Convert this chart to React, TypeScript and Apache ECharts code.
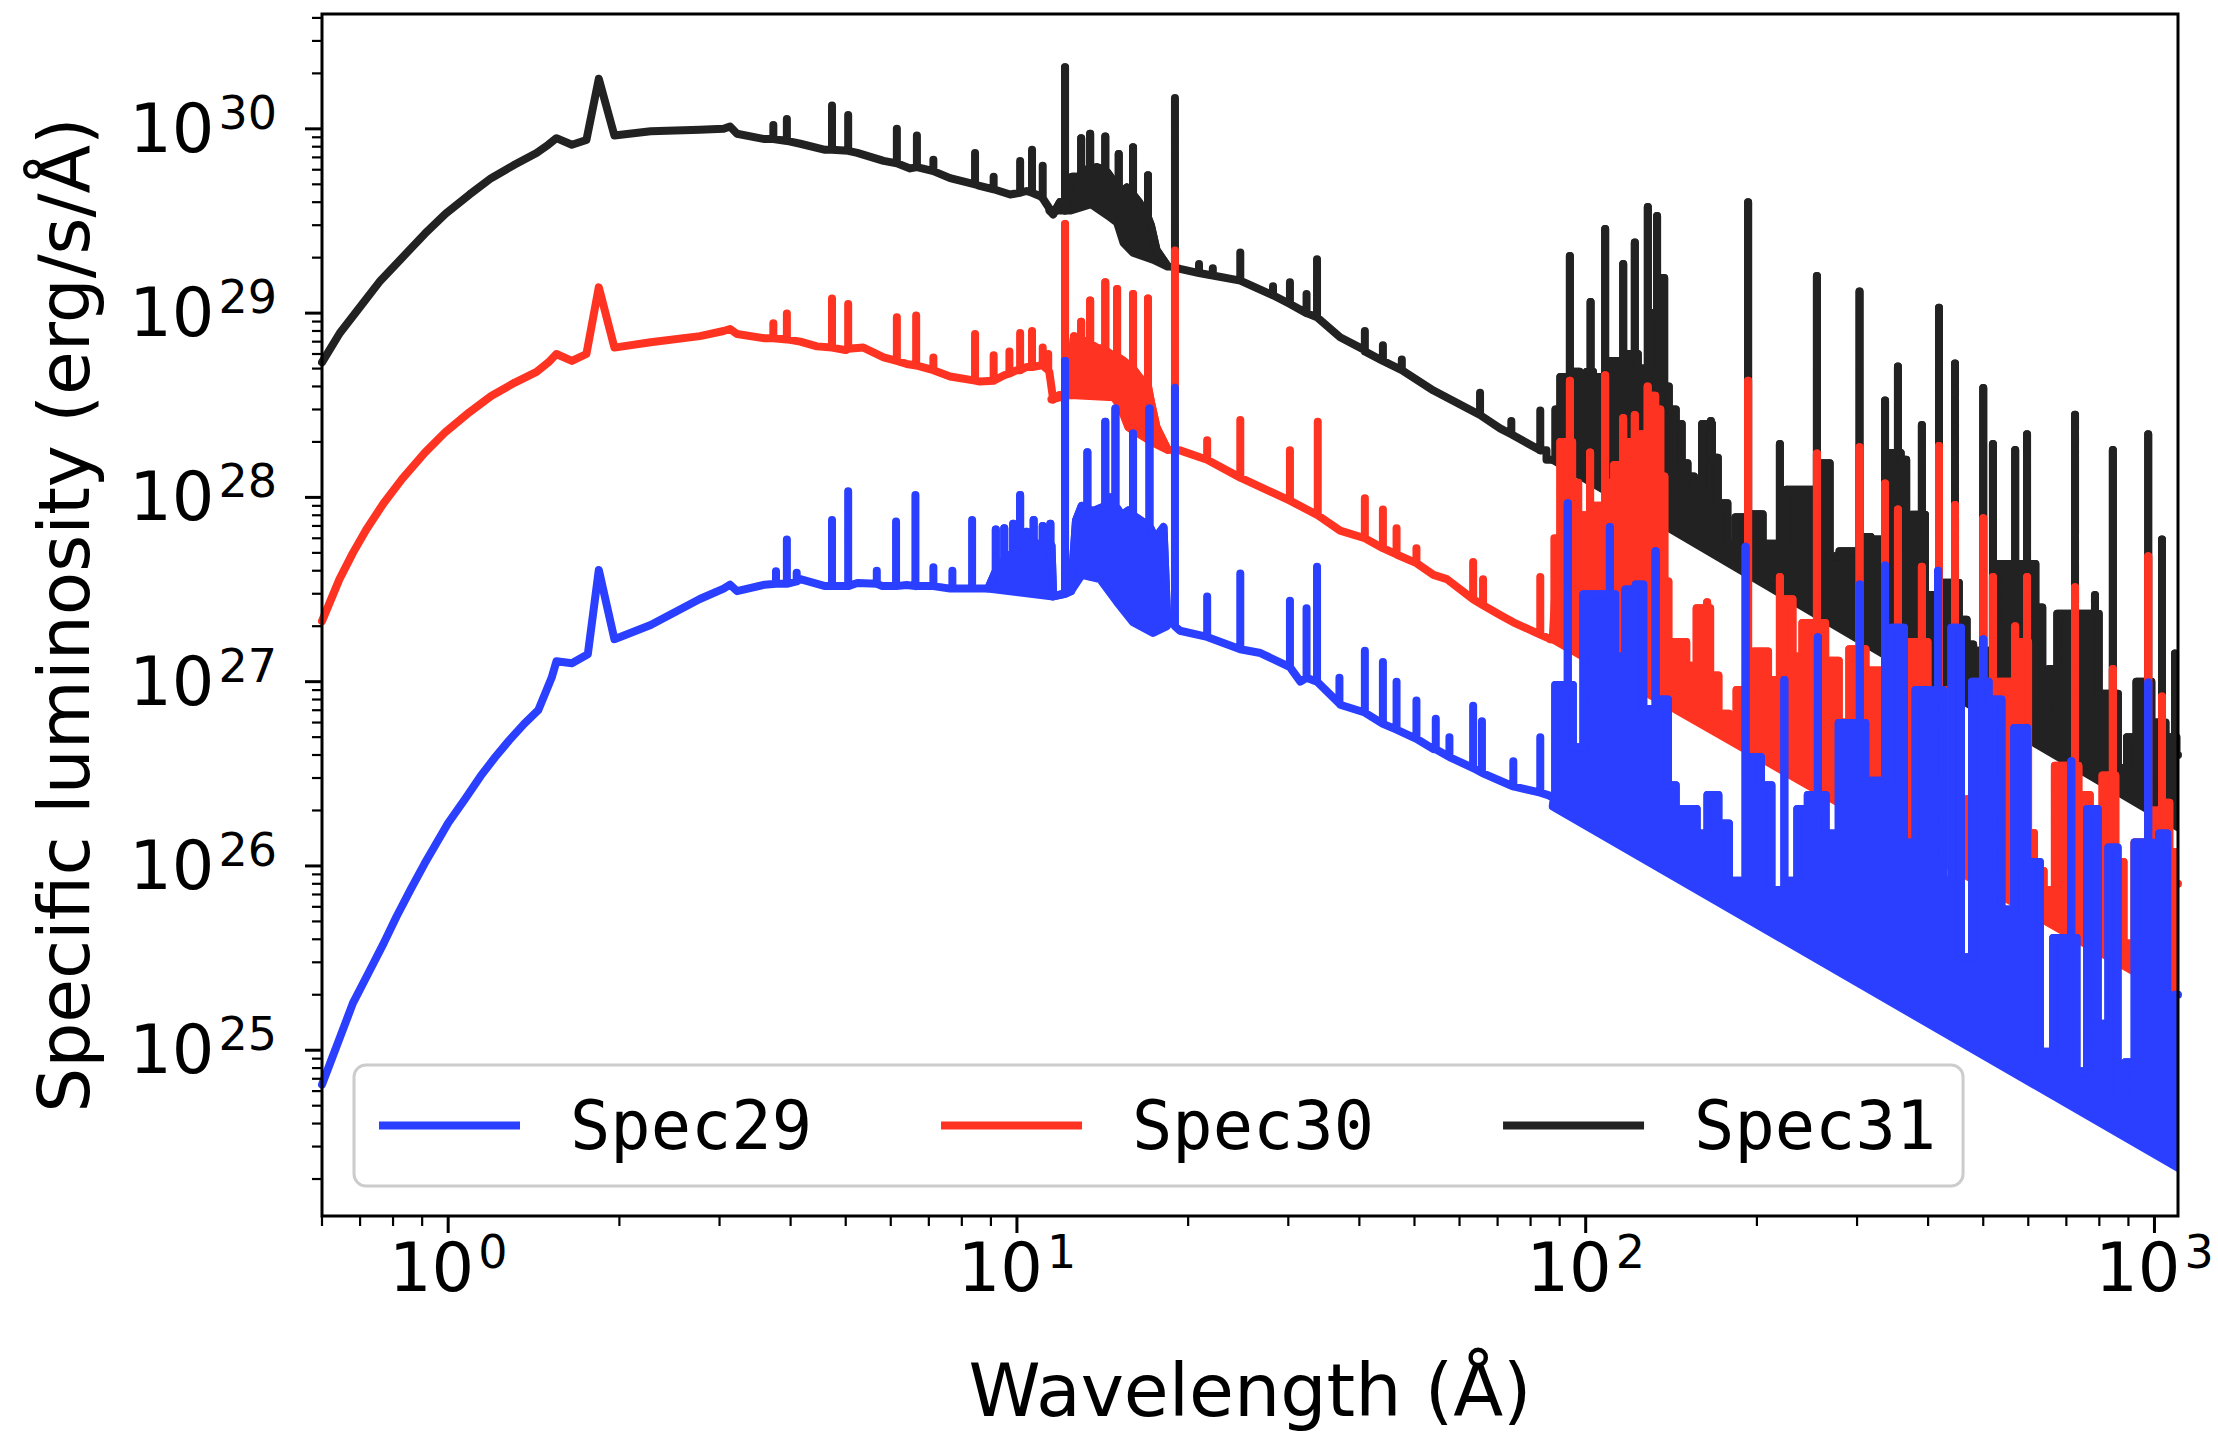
import React, { useEffect, useRef } from 'react';
import * as echarts from 'echarts';

const X_MIN = 0.6;
const X_MAX = 1100;
const Y_MIN = 1.26e24;
const Y_MAX = 4.2e30;

const xMajorTicks = [1, 10, 100, 1000];
const xMinorTicks = [0.6, 0.7, 0.8, 0.9, 2, 3, 4, 5, 6, 7, 8, 9, 20, 30, 40, 50, 60, 70, 80, 90, 200, 300, 400, 500, 600, 700, 800, 900];
const yMajorTicks = [1e25, 1e26, 1e27, 1e28, 1e29, 1e30];
const yMinorTicks = [
  2e24, 3e24, 4e24, 5e24, 6e24, 7e24, 8e24, 9e24,
  2e25, 3e25, 4e25, 5e25, 6e25, 7e25, 8e25, 9e25,
  2e26, 3e26, 4e26, 5e26, 6e26, 7e26, 8e26, 9e26,
  2e27, 3e27, 4e27, 5e27, 6e27, 7e27, 8e27, 9e27,
  2e28, 3e28, 4e28, 5e28, 6e28, 7e28, 8e28, 9e28,
  2e29, 3e29, 4e29, 5e29, 6e29, 7e29, 8e29, 9e29,
  2e30, 3e30, 4e30,
];

const seriesNames = ['Spec29', 'Spec30', 'Spec31'];

// ---------- Spec31 (black) ----------
const spec31Cont = [
  [0.6, 5.4e28], [0.645, 7.8e28], [0.69, 1.02e29], [0.76, 1.5e29], [0.83, 2.0e29], [0.91, 2.7e29],
  [0.99, 3.47e29], [1.09, 4.4e29], [1.19, 5.4e29], [1.31, 6.4e29], [1.43, 7.4e29], [1.5, 8.2e29],
  [1.55, 8.9e29], [1.65, 8.2e29], [1.75, 8.7e29], [1.84, 1.87e30], [1.96, 9.2e29], [2.27, 9.7e29],
  [2.77, 9.9e29], [3.05, 1.0e30], [3.13, 1.03e30], [3.22, 9.4e29], [3.6, 8.8e29], [4.16, 8.3e29],
  [4.6, 7.7e29], [5.24, 7.4e29], [5.83, 6.7e29], [6.49, 6.1e29], [7.63, 5.4e29], [8.6, 4.9e29],
  [9.73, 4.4e29], [10.4, 4.6e29], [11.0, 4.3e29], [11.58, 3.44e29], [11.9, 4.0e29], [12.5, 5.5e29],
  [13.2, 6.0e29], [13.8, 6.2e29], [14.6, 5.5e29], [15.3, 4.5e29], [15.6, 4.8e29], [16.4, 4.0e29],
  [17.2, 3.0e29], [17.6, 2.2e29], [18.4, 1.8e29], [19.35, 1.74e29], [21.6, 1.62e29], [24.7, 1.5e29],
  [30.2, 1.12e29], [33.7, 9.5e28], [37.0, 7.4e28], [40.9, 6.3e28], [54.0, 3.8e28], [70.7, 2.37e28],
  [83.2, 1.8e28], [87.5, 1.6e28],
  [89.5, 3.0e28], [91, 4.5e28], [96, 4.8e28], [99, 4.5e28], [104, 4.5e28], [112, 5.5e28], [119, 6.0e28],
  [125, 5.0e28], [131, 1.0e29], [136.8, 1.55e29], [138, 4.0e28], [142, 3.0e28], [146, 2.5e28],
  [149, 1.53e28], [153, 1.3e28], [157, 1.1e28], [163.5, 2.5e28], [167.5, 1.64e28], [174, 9.3e27],
  [181, 5.6e27], [186, 7.8e27], [199.5, 8.1e27], [210, 5.6e27], [231, 1.1e28], [245, 1.1e28],
  [265, 1.53e28], [272, 4.8e27], [287, 5.1e27], [314, 6.1e27], [320, 5.9e27], [345, 1.74e28],
  [362, 1.6e28], [370, 5.47e27], [378, 8.05e27], [400, 2.95e27], [430, 3.44e27], [460, 2.17e27],
  [475, 1.59e27], [485, 1.47e27], [540, 4.35e27], [555, 4.35e27], [610, 4.35e27], [625, 2.53e27],
  [645, 7.3e26], [660, 1.17e27], [690, 2.34e27], [750, 2.34e27], [810, 8.6e26], [880, 3.4e26],
  [910, 5.0e26], [950, 1.0e27], [1000, 6.0e26], [1060, 5.0e26], [1100, 4.0e26],
];
const spec31Lines = [
  [3.73, 8.8e29, 1.05e30], [3.94, 8.6e29, 1.13e30], [4.73, 7.7e29, 1.34e30], [5.05, 7.6e29, 1.19e30],
  [6.15, 6.5e29, 1.0e30], [6.67, 6.2e29, 9.2e29], [7.13, 5.9e29, 6.8e29], [8.44, 5.0e29, 7.4e29],
  [9.1, 4.7e29, 5.5e29], [10.13, 4.5e29, 6.7e29], [10.63, 4.5e29, 7.7e29], [11.1, 4.2e29, 6.3e29],
  [12.15, 3.6e29, 2.16e30], [12.97, 5.5e29, 8.9e29], [13.45, 6.0e29, 9.4e29], [14.3, 6.0e29, 9.1e29],
  [15.1, 4.6e29, 7.3e29], [16.0, 4.4e29, 7.95e29], [17.0, 3.3e29, 5.6e29], [18.96, 1.77e29, 1.47e30],
  [20.9, 1.65e29, 1.85e29], [22.1, 1.6e29, 1.75e29], [24.7, 1.5e29, 2.13e29], [28.2, 1.25e29, 1.4e29],
  [30.2, 1.12e29, 1.47e29], [32.3, 1.0e29, 1.27e29], [33.7, 9.5e28, 1.96e29], [40.9, 6.2e28, 8.0e28],
  [44.0, 5.5e28, 6.7e28], [47.5, 4.9e28, 5.6e28], [65.2, 2.8e28, 3.7e28], [74, 2.2e28, 2.6e28],
  [83.2, 1.8e28, 2.96e28],
  [93.8, 4.5e28, 2.04e29], [102, 4.8e28, 1.15e29], [108.2, 4.5e28, 2.86e29], [116.4, 5.5e28, 1.85e29],
  [122, 6.0e28, 2.42e29], [128.6, 5.0e28, 3.77e29], [133.5, 1.0e29, 3.37e29], [166, 2.5e28, 2.6e28],
  [193, 7.8e27, 4.0e29], [219.5, 5.6e27, 1.95e28], [255, 1.1e28, 1.59e29], [303, 5.1e27, 1.31e29],
  [336, 5.9e27, 3.36e28], [354, 1.74e28, 5.13e28], [390, 8.05e27, 2.47e28], [418, 2.95e27, 1.07e29],
  [446, 3.44e27, 5.33e28], [500, 1.47e27, 3.92e28], [520, 1.47e27, 1.95e28], [569, 4.35e27, 1.81e28],
  [597, 4.35e27, 2.2e28], [725, 2.34e27, 2.81e28], [786, 2.34e27, 2.95e27], [845, 8.6e26, 1.81e28],
  [975, 1.0e27, 2.2e28], [1031, 6.0e26, 5.9e27], [1087, 5.0e26, 1.42e27],
];
const spec31FloorA = [
  [11.4, 3.6e29], [12.4, 3.6e29], [13.5, 3.9e29], [14.6, 3.3e29], [15.0, 3.1e29], [15.4, 2.4e29],
  [16.0, 2.13e29], [17.35, 1.95e29], [18.4, 1.79e29],
];
const spec31FloorB = [[87.5, 1.6e28], [1100, 1.62e26]];

// ---------- Spec30 (red) ----------
const spec30Cont = [
  [0.6, 2.13e27], [0.644, 3.6e27], [0.68, 5.0e27], [0.718, 6.7e27], [0.77, 9.3e27], [0.83, 1.26e28],
  [0.91, 1.75e28], [0.99, 2.27e28], [1.09, 2.9e28], [1.19, 3.55e28], [1.31, 4.2e28], [1.43, 4.8e28],
  [1.5, 5.4e28], [1.55, 6.0e28], [1.65, 5.5e28], [1.75, 6.0e28], [1.84, 1.38e29], [1.96, 6.5e28],
  [2.27, 6.95e28], [2.77, 7.5e28], [3.05, 8.0e28], [3.13, 8.2e28], [3.22, 7.7e28], [3.6, 7.3e28],
  [4.16, 7.0e28], [4.45, 6.6e28], [5.0, 6.3e28], [5.37, 6.5e28], [5.83, 5.75e28], [6.4, 5.3e28],
  [7.63, 4.53e28], [8.6, 4.25e28], [9.5, 4.6e28], [10.0, 4.9e28], [10.4, 5.1e28], [11.0, 5.2e28],
  [11.4, 4.8e28], [11.58, 3.4e28], [11.9, 3.6e28], [12.3, 3.7e28], [12.6, 7.5e28], [13.2, 7.0e28],
  [13.8, 6.5e28], [14.6, 6.0e28], [15.4, 5.5e28], [16.4, 4.5e28], [17.2, 3.3e28], [17.6, 2.4e28],
  [18.4, 1.82e28], [19.35, 1.8e28], [24.7, 1.28e28], [30.2, 9.6e27], [37.0, 6.6e27], [46.5, 4.9e27],
  [50.4, 4.4e27], [54.0, 3.8e27], [57, 3.6e27], [70.7, 2.3e27], [74.6, 2.1e27], [86.7, 1.7e27],
  [89.5, 6.0e27], [91, 2.0e28], [95.5, 1.2e28], [98.5, 8.0e27], [104, 9.0e27], [111, 1.2e28],
  [113.5, 1.5e28], [119.5, 2.0e28], [125, 2.2e28], [131, 3.56e28], [134, 3.0e28], [136.5, 1.3e28],
  [138.5, 3.5e27], [141, 1.64e27], [147, 1.64e27], [153.5, 1.22e27], [160, 2.5e27], [167.5, 1.08e27],
  [174.8, 6.7e26], [182.4, 6.0e26], [186, 9.0e26], [202, 1.46e27], [216.7, 1.02e27], [226, 2.8e27],
  [236, 1.37e27], [245, 2.08e27], [272.6, 1.3e27], [284.6, 6.0e26], [297, 1.5e27], [318, 1.15e27],
  [381, 1.64e27], [408, 9.0e26], [443, 2.04e26], [457, 1.0e26], [478, 2.3e26], [497, 2.74e26],
  [522, 5.0e26], [541, 1.0e27], [579, 1.64e27], [602, 1.51e26], [626, 9.4e25], [651, 7.4e25],
  [686, 3.5e26], [745, 2.43e26], [795, 6.95e25], [826, 3.1e26], [862, 1.05e26], [903, 3.8e25],
  [943, 1.34e26], [1000, 2.0e26], [1050, 2.2e26], [1074, 1.19e26], [1100, 8.0e25],
];
const spec30Lines = [
  [3.73, 7.3e28, 8.8e28], [3.94, 7.2e28, 9.95e28], [4.73, 6.5e28, 1.2e29], [5.05, 6.4e28, 1.12e29],
  [6.15, 5.5e28, 9.5e28], [6.65, 5.2e28, 9.7e28], [7.13, 4.9e28, 5.75e28], [8.44, 4.3e28, 7.7e28],
  [9.1, 4.3e28, 5.9e28], [9.7, 4.7e28, 6.2e28], [10.13, 4.9e28, 7.8e28], [10.63, 5.1e28, 8.0e28],
  [11.1, 5.2e28, 6.5e28], [11.35, 4.9e28, 6.0e28], [12.15, 3.6e28, 3.05e29],
  [12.97, 7.2e28, 8.98e28], [13.45, 6.8e28, 1.17e29], [14.3, 6.3e28, 1.47e29], [15.0, 5.8e28, 1.35e29],
  [16.0, 5.0e28, 1.27e29], [17.0, 4.0e28, 1.2e29], [18.96, 1.8e28, 2.19e29], [21.6, 1.6e28, 2.04e28],
  [24.7, 1.28e28, 2.63e28], [30.2, 9.6e27, 1.8e28], [33.8, 8.0e27, 2.57e28], [40.9, 6.0e27, 9.9e27],
  [44.0, 5.3e27, 8.6e27], [46.5, 4.9e27, 6.8e27], [50.4, 4.4e27, 5.3e27], [63.4, 2.8e27, 4.46e27],
  [66, 2.6e27, 3.6e27], [83.2, 1.8e27, 3.7e27],
  [93.8, 2.0e28, 4.3e28], [101.8, 8.0e27, 1.75e28], [108.2, 9.0e27, 4.6e28], [116.4, 1.5e28, 2.7e28],
  [122, 2.0e28, 2.8e28], [128.5, 2.2e28, 4.0e28], [163.5, 2.5e27, 2.7e27], [193, 9.0e26, 4.3e28],
  [219.5, 1.02e27, 3.7e27], [255, 2.08e27, 1.73e28], [303, 1.5e27, 1.87e28], [336, 1.15e27, 1.19e28],
  [354, 1.15e27, 8.6e27], [390, 1.64e27, 4.2e27], [418, 9.0e26, 1.9e28], [446, 2.04e26, 9.1e27],
  [500, 2.74e26, 7.7e27], [520, 2.74e26, 3.7e27], [569, 1.0e27, 2.0e27], [597, 1.64e27, 3.7e27],
  [725, 3.5e26, 3.25e27], [845, 3.1e26, 1.17e27], [975, 1.34e26, 4.8e27], [1031, 2.0e26, 8.3e26],
];
const spec30FloorA = [
  [11.5, 3.4e28], [12.4, 3.6e28], [14.8, 3.5e28], [15.2, 3.1e28], [15.7, 2.4e28], [17.35, 1.98e28],
  [18.4, 1.81e28],
];
const spec30FloorB = [[87.5, 1.7e27], [1100, 1.95e25]];

// ---------- Spec29 (blue) ----------
const spec29Cont = [
  [0.6, 6.5e24], [0.62, 8.5e24], [0.645, 1.17e25], [0.68, 1.8e25], [0.723, 2.6e25], [0.77, 3.8e25],
  [0.811, 5.3e25], [0.86, 7.5e25], [0.909, 1.03e26], [1.0, 1.71e26], [1.07, 2.3e26], [1.14, 3.07e26],
  [1.21, 3.9e26], [1.28, 4.8e26], [1.36, 5.9e26], [1.44, 7.0e26], [1.52, 1.05e27], [1.55, 1.29e27],
  [1.65, 1.26e27], [1.76, 1.41e27], [1.84, 4.04e27], [1.96, 1.7e27], [2.27, 2.03e27], [2.77, 2.81e27],
  [3.05, 3.2e27], [3.13, 3.36e27], [3.22, 3.1e27], [3.6, 3.36e27], [4.16, 3.6e27], [4.6, 3.3e27],
  [5.24, 3.43e27], [5.8, 3.3e27], [6.4, 3.35e27], [7.63, 3.2e27], [8.6, 3.2e27], [8.9, 3.2e27],
  [9.3, 4.4e27], [9.6, 4.8e27], [10.0, 5.2e27], [10.4, 5.0e27], [10.9, 5.6e27], [11.3, 5.2e27],
  [11.5, 5.5e27], [11.58, 2.9e27], [12.45, 3.1e27], [12.7, 7.5e27], [13.0, 9.0e27], [13.7, 8.5e27],
  [14.6, 1.0e28], [15.3, 8.0e27], [15.7, 8.5e27], [16.5, 7.5e27], [17.5, 6.0e27], [18.1, 6.9e27],
  [18.36, 2.3e27], [19.35, 1.89e27], [21.6, 1.75e27], [24.7, 1.5e27], [26.8, 1.43e27], [30.2, 1.2e27],
  [31.5, 1.0e27], [37.0, 7.5e26], [44, 5.9e26], [54, 4.3e26], [70.7, 2.9e26], [86.7, 2.4e26],
  [88, 2.4e26], [88.8, 9.6e26], [96.9, 4.4e26], [101.3, 2.98e27], [105.8, 2.98e27], [115, 1.37e27],
  [120, 3.16e27], [125, 3.37e27], [127.5, 7.1e26], [138, 8.0e26], [141, 2.74e26], [147, 2.04e26],
  [153.5, 2.04e26], [160, 1.5e26], [167.5, 2.43e26], [174.8, 1.7e26], [182.4, 8.3e25], [199, 3.9e26],
  [207.6, 2.74e26], [216.7, 7.4e25], [230.6, 8.3e25], [240.6, 2.04e26], [251, 2.43e26], [272.6, 1.5e26],
  [284.6, 5.96e26], [317, 2.9e26], [354, 1.96e27], [371.5, 1.34e26], [389, 9.0e26], [433, 8.3e25],
  [446, 1.96e27], [468, 3.2e25], [488, 1.0e27], [522, 8.0e26], [555, 5.8e25], [579, 5.6e26],
  [616, 1.05e26], [642, 9.8e24], [686, 4.06e25], [745, 7.7e24], [778, 2.04e26], [812, 1.39e25],
  [848, 1.26e26], [875, 5.8e24], [903, 8.6e24], [943, 1.34e26], [1006, 2.5e25], [1032, 1.5e26],
  [1074, 1.98e25], [1100, 2.0e25],
];
const spec29Lines = [
  [3.77, 3.4e27, 3.97e27], [3.94, 3.4e27, 5.9e27], [4.1, 3.5e27, 3.9e27], [4.73, 3.3e27, 7.55e27],
  [5.05, 3.3e27, 1.08e28], [5.67, 3.4e27, 4.0e27], [6.13, 3.3e27, 7.4e27], [6.63, 3.3e27, 1.03e28],
  [7.13, 3.3e27, 4.18e27], [7.7, 3.2e27, 4.0e27], [8.34, 3.2e27, 7.55e27], [9.18, 4.0e27, 6.7e27],
  [9.5, 4.6e27, 6.8e27], [9.85, 5.0e27, 7.2e27], [10.13, 5.2e27, 1.03e28], [10.4, 5.0e27, 6.5e27],
  [10.7, 5.3e27, 7.55e27], [11.1, 5.5e27, 7.0e27], [11.45, 5.3e27, 7.2e27], [12.15, 3.0e27, 5.5e28],
  [13.3, 8.5e27, 1.76e28],
  [14.3, 9.0e27, 2.57e28], [14.9, 9.0e27, 3.04e28], [16.0, 8.0e27, 2.22e28], [17.1, 7.0e27, 3.04e28],
  [18.96, 2.0e27, 3.93e28], [21.6, 1.75e27, 2.9e27], [24.7, 1.5e27, 3.86e27], [30.2, 1.2e27, 2.75e27],
  [32.3, 1.05e27, 2.5e27], [33.7, 1.0e27, 4.2e27], [36.9, 7.6e26, 1.05e27], [40.9, 6.8e26, 1.47e27],
  [44.0, 5.9e26, 1.28e27], [46.5, 5.5e26, 1.0e27], [50.4, 4.9e26, 7.9e26], [54.5, 4.3e26, 6.3e26],
  [57.6, 3.9e26, 5.0e26], [63.4, 3.4e26, 7.4e26], [65.7, 3.2e26, 6.1e26], [74.6, 2.7e26, 3.7e26],
  [83.2, 2.5e26, 5.0e26],
  [93, 9.6e26, 9.3e27], [110.3, 2.98e27, 6.9e27], [132.7, 7.1e26, 5.1e27], [191, 8.3e25, 5.4e27],
  [223.5, 7.4e25, 1.02e27], [256, 2.43e26, 1.74e27], [303.4, 5.96e26, 3.37e27], [336, 2.9e26, 4.27e27],
  [416.5, 9.0e26, 4.0e27], [500, 1.0e27, 1.7e27], [714, 4.06e25, 3.7e26], [975, 1.34e26, 9.9e26],
];
const spec29FloorA = [
  [8.9, 3.2e27], [11.58, 2.9e27], [12.45, 3.1e27], [13.0, 3.8e27], [14.0, 3.6e27], [15.0, 2.7e27],
  [16.0, 2.1e27], [17.35, 1.84e27], [18.36, 2.0e27],
];
const spec29FloorB = [[87.5, 2.1e26], [1100, 2.3e24]];

const COLORS: Record<string, string> = { Spec29: '#2a3fff', Spec30: '#ff3322', Spec31: '#222222' };
const LW = 8;
const FONT = 'DejaVu Sans';

function buildTrace(cont: number[][], lines: number[][]): number[][] {
  const items: { x: number; o: number; pts: number[][] }[] = [];
  cont.forEach((p, i) => items.push({ x: p[0], o: i, pts: [[p[0], p[1]]] }));
  lines.forEach((l, i) =>
    items.push({ x: l[0], o: 10000 + i, pts: [[l[0], l[1]], [l[0], l[2]], [l[0], l[1]]] })
  );
  items.sort((a, b) => a.x - b.x || a.o - b.o);
  const out: number[][] = [];
  items.forEach((it) => it.pts.forEach((p) => out.push(p)));
  return out;
}

// step-middle outline in pixel space (same as ECharts line "step: middle")
function stepPixels(px: number[][]): number[][] {
  const out: number[][] = [];
  for (let i = 0; i < px.length; i++) {
    if (i > 0) {
      const a = px[i - 1];
      const b = px[i];
      const mx = (a[0] + b[0]) / 2;
      out.push([mx, a[1]], [mx, b[1]]);
    }
    out.push(px[i]);
  }
  return out;
}

function makeSeries(name: string, cont: number[][], lines: number[][], floors: number[][][], z: number) {
  const color = COLORS[name];
  const trace = buildTrace(cont, lines);
  const cut = floors[1][0][0];
  const low = trace.filter((p) => p[0] < cut);
  const high = [low[low.length - 1]].concat(trace.filter((p) => p[0] >= cut));
  const fill = {
    type: 'custom',
    name: name + ' fill',
    silent: true,
    clip: true,
    z,
    data: floors.map((f, i) => [f[0][0], f[0][1], i]),
    renderItem: (_params: any, api: any) => {
      const idx = api.value(2);
      const f = floors[idx];
      const lo = f[0][0];
      const hi = f[f.length - 1][0];
      const top = trace.filter((p) => p[0] >= lo && p[0] <= hi).map((p) => api.coord(p));
      const topPx = idx === 1 ? stepPixels(top) : top;
      const pts = topPx.concat(f.slice().reverse().map((p) => api.coord(p)));
      return {
        type: 'polygon',
        shape: { points: pts },
        style: { fill: color, stroke: color, lineWidth: LW, lineJoin: 'round' },
      };
    },
  };
  const lineBase = {
    type: 'line',
    name,
    showSymbol: false,
    symbol: 'none',
    silent: true,
    z: z + 1,
    color,
    itemStyle: { color },
    lineStyle: { width: LW, color, join: 'round', cap: 'round' },
  };
  return [fill, { ...lineBase, data: low }, { ...lineBase, data: high, step: 'middle' }];
}

const labelRich = {
  b: { fontSize: 67, fontFamily: FONT, color: '#000', lineHeight: 80 },
  s: { fontSize: 46, fontFamily: FONT, color: '#000', lineHeight: 80, padding: [0, 0, 32, 4] },
};
const powFormatter = (v: number) => {
  const e = Math.log10(v);
  const r = Math.round(e);
  return Math.abs(e - r) < 1e-6 ? `{b|10}{s|${r}}` : '';
};

export default function App() {
  const ref = useRef<HTMLDivElement>(null);
  useEffect(() => {
    if (!ref.current) return;
    const chart = echarts.init(ref.current, undefined, { renderer: 'svg' });
    const xTickData = [
      ...xMajorTicks.map((v) => [v, Y_MIN, 1]),
      ...xMinorTicks.map((v) => [v, Y_MIN, 0]),
    ];
    const yTickData = [
      ...yMajorTicks.map((v) => [X_MIN, v, 1]),
      ...yMinorTicks.map((v) => [X_MIN, v, 0]),
    ];
    const option: any = {
      animation: false,
      backgroundColor: '#ffffff',
      textStyle: { fontFamily: FONT },
      grid: { left: 322, right: 40, top: 14, bottom: 213, show: false },
      xAxis: {
        type: 'log',
        logBase: 10,
        min: X_MIN,
        max: X_MAX,
        axisLine: { show: false },
        axisTick: { show: false },
        minorTick: { show: false },
        splitLine: { show: false },
        axisLabel: { formatter: powFormatter, rich: labelRich, margin: 12 },
        name: 'Wavelength (Å)',
        nameLocation: 'middle',
        nameGap: 138,
        nameTextStyle: { fontSize: 73, fontFamily: FONT, color: '#000' },
      },
      yAxis: {
        type: 'log',
        logBase: 10,
        min: Y_MIN,
        max: Y_MAX,
        axisLine: { show: false },
        axisTick: { show: false },
        minorTick: { show: false },
        splitLine: { show: false },
        axisLabel: { formatter: powFormatter, rich: labelRich, margin: 45 },
        name: 'Specific luminosity (erg/s/Å)',
        nameLocation: 'middle',
        nameGap: 222,
        nameTextStyle: { fontSize: 71, fontFamily: FONT, color: '#000' },
      },
      legend: {
        data: seriesNames,
        left: 354,
        top: 1065,
        orient: 'horizontal',
        icon: 'rect',
        itemWidth: 141,
        itemHeight: 8,
        itemGap: 129,
        padding: [27, 27, 27, 25],
        backgroundColor: 'rgba(255,255,255,0.8)',
        borderColor: '#cccccc',
        borderWidth: 3,
        borderRadius: 12,
        selectedMode: false,
        z: 30,
        textStyle: { fontSize: 67, fontFamily: 'DejaVu Sans Mono', color: '#000', padding: [0, 0, 0, 45] },
      },
      series: [
        ...makeSeries('Spec31', spec31Cont, spec31Lines, [spec31FloorA, spec31FloorB], 2),
        ...makeSeries('Spec30', spec30Cont, spec30Lines, [spec30FloorA, spec30FloorB], 4),
        ...makeSeries('Spec29', spec29Cont, spec29Lines, [spec29FloorA, spec29FloorB], 6),
        {
          type: 'custom',
          name: 'xticks',
          silent: true,
          clip: false,
          z: 20,
          data: xTickData,
          renderItem: (_p: any, api: any) => {
            const major = api.value(2) === 1;
            const p = api.coord([api.value(0), Y_MIN]);
            return {
              type: 'line',
              shape: { x1: p[0], y1: p[1], x2: p[0], y2: p[1] + (major ? 17 : 10) },
              style: { stroke: '#000', lineWidth: major ? 3 : 2.2 },
            };
          },
        },
        {
          type: 'custom',
          name: 'yticks',
          silent: true,
          clip: false,
          z: 20,
          data: yTickData,
          renderItem: (_p: any, api: any) => {
            const major = api.value(2) === 1;
            const p = api.coord([X_MIN, api.value(1)]);
            return {
              type: 'line',
              shape: { x1: p[0], y1: p[1], x2: p[0] - (major ? 17 : 10), y2: p[1] },
              style: { stroke: '#000', lineWidth: major ? 3 : 2.2 },
            };
          },
        },
        {
          type: 'custom',
          name: 'frame',
          silent: true,
          clip: false,
          z: 21,
          data: [[X_MIN, Y_MIN]],
          renderItem: (_p: any, api: any) => {
            const a = api.coord([X_MIN, Y_MAX]);
            const b = api.coord([X_MAX, Y_MIN]);
            return {
              type: 'rect',
              shape: { x: a[0], y: a[1], width: b[0] - a[0], height: b[1] - a[1] },
              style: { fill: 'none', stroke: '#000', lineWidth: 3 },
            };
          },
        },
      ],
    };
    chart.setOption(option);
    return () => chart.dispose();
  }, []);
  return (
    <div
      ref={ref}
      style={{ position: 'absolute', left: 0, top: 0, width: 2218, height: 1432 }}
    />
  );
}
